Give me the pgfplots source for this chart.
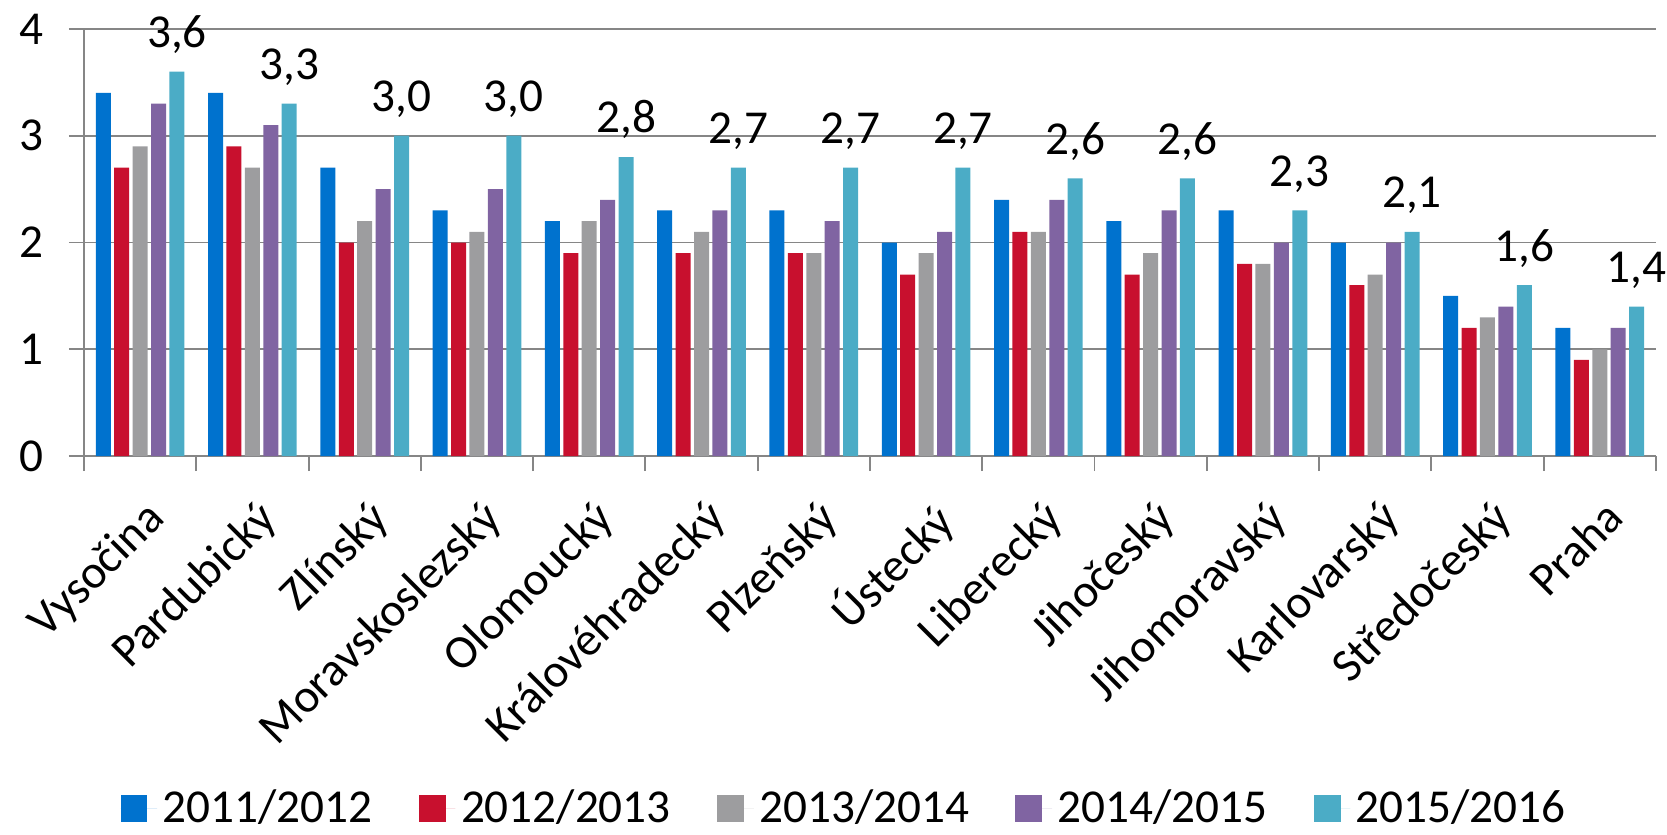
\documentclass[border=0pt]{standalone}
\usepackage{fontspec}
\setmainfont{Carlito}
\usepackage{pgfplots}
\pgfplotsset{compat=1.18}
\definecolor{cA}{RGB}{0,114,206}
\definecolor{cB}{RGB}{200,16,46}
\definecolor{cC}{RGB}{157,157,159}
\definecolor{cD}{RGB}{128,100,162}
\definecolor{cE}{RGB}{75,172,198}
\definecolor{gridc}{RGB}{134,134,134}
\begin{document}
\begin{tikzpicture}
\useasboundingbox (-30.24pt,-136.1pt) rectangle (569.9pt,164.2pt);
\begin{axis}[
  scale only axis,
  width=565.9pt, height=153.8pt,
  xmin=-0.5, xmax=13.5, ymin=0, ymax=4,
  ybar=1.23pt, bar width=5.4pt,
  axis lines*=left,
  axis line style={gridc, line width=0.7pt},
  tick align=outside,
  major tick length=5.4pt, minor tick length=5.4pt,
  every tick/.style={gridc, line width=0.7pt},
  xtick={0,...,13},
  major x tick style={draw=none},
  minor xtick={-0.5,0.5,...,13.5},
  xticklabels={Vysočina,Pardubický,Zlínský,Moravskoslezský,Olomoucký,Královéhradecký,Plzeňský,Ústecký,Liberecký,Jihočeský,Jihomoravský,Karlovarský,Středočeský,Praha},
  xticklabel style={rotate=45, anchor=north east, xshift=-2.5pt, yshift=-4pt, font=\fontsize{17}{20}\selectfont},
  ytick={0,1,2,3,4},
  yticklabel style={font=\fontsize{17}{20}\selectfont, xshift=-5.5pt},
  ymajorgrids=true,
  major grid style={gridc, line width=0.7pt},
  /pgf/number format/assume math mode=true,
  /pgf/number format/use comma,
  legend columns=5,
  legend style={at={(0.4847,-0.825)}, anchor=center, draw=none, fill=none,
    font=\fontsize{17}{20}\selectfont,
    /tikz/every even column/.append style={column sep=14.7pt}},
  legend image code/.code={\fill[#1] (0pt,-4.85pt) rectangle (9.7pt,4.85pt); \path (0pt,0pt) -- (13.2pt,0pt);},
]
\addplot[fill=cA, draw=none] coordinates {(0,3.4)(1,3.4)(2,2.7)(3,2.3)(4,2.2)(5,2.3)(6,2.3)(7,2.0)(8,2.4)(9,2.2)(10,2.3)(11,2.0)(12,1.5)(13,1.2)};
\addplot[fill=cB, draw=none] coordinates {(0,2.7)(1,2.9)(2,2.0)(3,2.0)(4,1.9)(5,1.9)(6,1.9)(7,1.7)(8,2.1)(9,1.7)(10,1.8)(11,1.6)(12,1.2)(13,0.9)};
\addplot[fill=cC, draw=none] coordinates {(0,2.9)(1,2.7)(2,2.2)(3,2.1)(4,2.2)(5,2.1)(6,1.9)(7,1.9)(8,2.1)(9,1.9)(10,1.8)(11,1.7)(12,1.3)(13,1.0)};
\addplot[fill=cD, draw=none] coordinates {(0,3.3)(1,3.1)(2,2.5)(3,2.5)(4,2.4)(5,2.3)(6,2.2)(7,2.1)(8,2.4)(9,2.3)(10,2.0)(11,2.0)(12,1.4)(13,1.2)};
\addplot[fill=cE, draw=none,
  nodes near coords,
  nodes near coords style={anchor=base, yshift=8.7pt, font=\fontsize{17}{20}\selectfont, text=black,
    /pgf/number format/.cd, fixed, fixed zerofill, precision=1, use comma, assume math mode=true}]
  coordinates {(0,3.6)(1,3.3)(2,3.0)(3,3.0)(4,2.8)(5,2.7)(6,2.7)(7,2.7)(8,2.6)(9,2.6)(10,2.3)(11,2.1)(12,1.6)(13,1.4)};
\legend{2011/2012,2012/2013,2013/2014,2014/2015,2015/2016}
\end{axis}
\end{tikzpicture}
\end{document}
